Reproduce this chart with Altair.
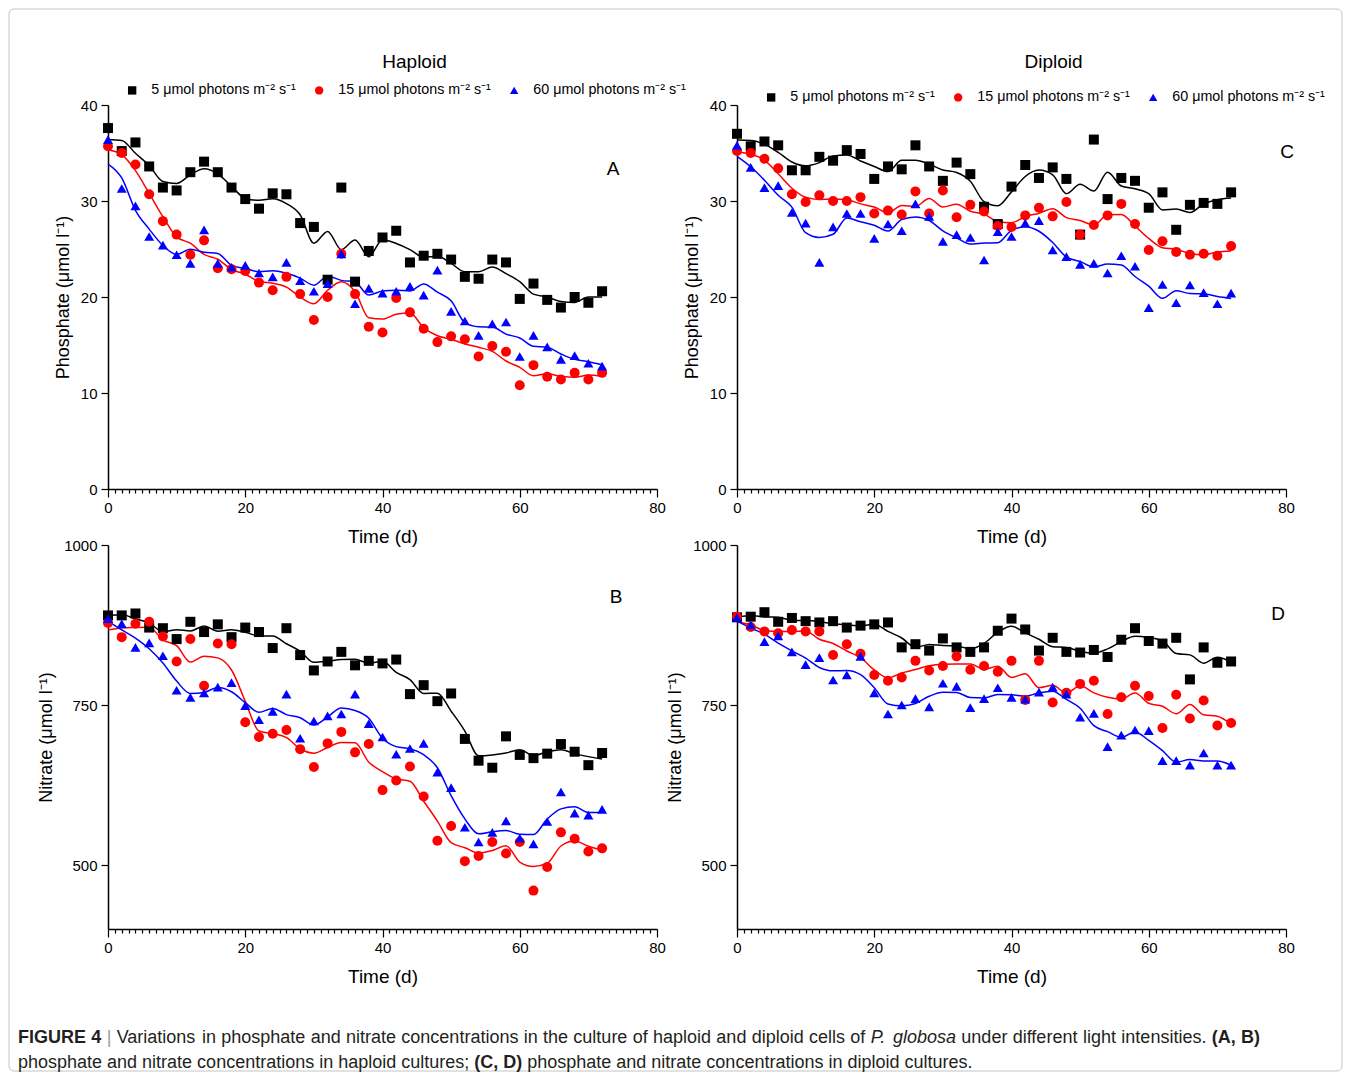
import altair as alt
import pandas as pd

FONT = "Liberation Sans"

days = [0, 2, 4, 6, 8, 10, 12, 14, 16, 18, 20, 22, 24, 26, 28, 30, 32, 34, 36,
        38, 40, 42, 44, 46, 48, 50, 52, 54, 56, 58, 60, 62, 64, 66, 68, 70, 72]

series_labels = ["5 μmol photons m⁻² s⁻¹", "15 μmol photons m⁻² s⁻¹", "60 μmol photons m⁻² s⁻¹"]
series_colors = ["#000000", "#ff0000", "#0000ff"]
series_shapes = ["square", "circle", "triangle-up"]

# Panel A: haploid phosphate
A_5 = [37.6, 35.2, 36.1, 33.6, 31.4, 31.1, 33.0, 34.1, 33.0, 31.4, 30.2, 29.2, 30.8, 30.7, 27.7, 27.3, 21.8, 31.4, 21.6,
       24.8, 26.2, 26.9, 23.6, 24.3, 24.5, 23.9, 22.1, 21.9, 23.9, 23.6, 19.8, 21.4, 19.7, 18.9, 20.0, 19.4, 20.6]
A_15 = [35.7, 35.0, 33.8, 30.7, 27.9, 26.5, 24.4, 25.9, 23.0, 22.9, 22.7, 21.5, 20.7, 22.1, 20.3, 17.6, 20.0, 24.5, 20.3,
        16.9, 16.3, 19.9, 18.4, 16.7, 15.3, 15.9, 15.6, 13.8, 14.9, 14.3, 10.8, 12.9, 11.7, 11.4, 12.1, 11.4, 12.1]
A_60 = [36.4, 31.3, 29.5, 26.3, 25.4, 24.4, 23.5, 27.0, 23.5, 23.1, 23.3, 22.5, 22.1, 23.6, 21.7, 20.6, 21.4, 24.5, 19.3,
        20.9, 20.4, 20.6, 21.1, 20.2, 22.8, 18.5, 17.5, 16.0, 17.2, 17.4, 13.8, 16.0, 14.8, 13.5, 13.9, 13.1, 12.8]

# Panel C: diploid phosphate
C_5 = [37.0, 35.7, 36.2, 35.8, 33.2, 33.2, 34.6, 34.2, 35.3, 34.9, 32.3, 33.6, 33.3, 35.8, 33.6, 32.1, 34.0, 32.8, 29.4,
       27.6, 31.5, 33.75, 32.4, 33.5, 32.3, 26.5, 36.4, 30.2, 32.4, 32.1, 29.3, 30.9, 27.0, 29.6, 29.8, 29.7, 30.9]
C_15 = [35.2, 35.0, 34.4, 33.4, 30.7, 29.9, 30.6, 30.0, 30.0, 30.4, 28.7, 29.0, 28.6, 31.0, 28.7, 31.1, 28.3, 29.6, 28.9,
        27.4, 27.3, 28.5, 29.3, 28.4, 29.9, 26.5, 27.5, 28.5, 29.7, 27.6, 24.9, 25.8, 24.7, 24.4, 24.5, 24.3, 25.3]
C_60 = [35.8, 33.5, 31.4, 31.6, 28.8, 27.7, 23.6, 27.3, 28.7, 28.7, 26.1, 27.6, 26.9, 29.7, 28.4, 25.8, 26.5, 26.2, 23.85,
        26.8, 26.3, 27.7, 27.95, 24.9, 24.2, 23.4, 23.5, 22.5, 24.3, 23.2, 18.9, 21.3, 19.4, 21.25, 20.45, 19.3, 20.4]

# Panel B: haploid nitrate
B_5 = [890, 890, 893, 871, 870, 853, 880, 864, 876, 856, 871, 864, 839, 870, 828, 804, 818, 833, 812,
       819, 815, 821, 767, 781, 756, 768, 697, 663, 652, 701, 672, 667, 674, 689, 677, 656, 675]
B_15 = [878, 856, 877, 880, 857, 818, 853, 780, 846, 845, 723, 700, 705, 711, 681, 653, 690, 708, 676,
        689, 617, 632, 654, 607, 538, 561, 506, 514, 536, 518, 536, 460, 497, 551, 541, 521, 526]
B_60 = [885, 877, 840, 847, 827, 773, 762, 769, 778, 785, 749, 727, 740, 767, 698, 725, 733, 736, 767,
        721, 700, 673, 682, 690, 645, 621, 559, 536, 551, 569, 542, 533, 568, 614, 581, 578, 587]

# Panel D: diploid nitrate
D_5 = [887, 888, 895, 880, 886, 881, 879, 881, 871, 874, 876, 879, 840, 845, 835, 854, 840, 833, 840,
       866, 885, 868, 835, 855, 833, 832, 836, 825, 852, 870, 850, 846, 855, 790, 840, 816, 818]
D_15 = [888, 872, 865, 862, 867, 865, 865, 828, 845, 830, 797, 788, 793, 819, 804, 811, 826, 805, 811,
        802, 819, 758, 819, 754, 769, 783, 788, 736, 762, 780, 764, 714, 766, 729, 757, 718, 722]
D_60 = [887, 875, 849, 858, 833, 813, 824, 789, 797, 826, 769, 736, 750, 760, 747, 784, 779, 746, 760,
        777, 762, 759, 770, 778, 767, 731, 737, 685, 703, 711, 710, 663, 663, 656, 675, 656, 656]

x_ticks = list(range(0, 81))
phos_ticks = [0, 10, 20, 30, 40]
nitr_ticks = [500, 750, 1000]

PW, PH = 549, 384


def make_df(vals_list):
    rows = []
    for lab, col, vals in zip(series_labels, series_colors, vals_list):
        for d, v in zip(days, vals):
            rows.append({"day": d, "value": v, "series": lab, "hex": col})
    return pd.DataFrame(rows)


def panel(vals_list, ydomain, yticks, ytitle, letter, letter_xy, title=None, title_dx=0,
          title_offset=0, legend_xy=None):
    df = make_df(vals_list)
    xaxis = alt.Axis(
        values=x_ticks,
        labelExpr="datum.value % 20 === 0 ? datum.label : ''",
        tickSize={"condition": {"test": "datum.value % 20 === 0", "value": 8}, "value": 4},
        labelOverlap=False, labelFlush=False, grid=False, title="Time (d)",
        domainColor="black", domainWidth=1.5, tickColor="black", tickWidth=1.2,
        labelFont=FONT, labelFontSize=15, labelColor="black", labelPadding=3,
        titleFont=FONT, titleFontSize=19, titleFontWeight="normal", titleColor="black", titlePadding=12,
    )
    yaxis = alt.Axis(
        values=yticks, grid=False, title=ytitle, tickSize=7, format="d", labelFlush=False,
        domainColor="black", domainWidth=1.5, tickColor="black", tickWidth=1.2,
        labelFont=FONT, labelFontSize=15, labelColor="black", labelPadding=4,
        titleFont=FONT, titleFontSize=18, titleFontWeight="normal", titleColor="black", titlePadding=8,
    )
    xenc = alt.X("day:Q", scale=alt.Scale(domain=[0, 80], nice=False, zero=False), axis=xaxis)
    yscale = alt.Scale(domain=ydomain, nice=False, zero=False)

    if legend_xy is not None:
        legend = alt.Legend(
            title=None, orient="none", legendX=legend_xy[0], legendY=legend_xy[1],
            direction="horizontal", labelFont=FONT, labelFontSize=14.3, labelColor="black",
            symbolSize=70, labelOffset=12, columnPadding=16, symbolStrokeWidth=0,
        )
    else:
        legend = None

    lines = alt.Chart(df).transform_window(
        ma="mean(value)", frame=[-1, 1], groupby=["series"], sort=[alt.SortField("day")]
    ).mark_line(strokeWidth=1.5, interpolate="monotone").encode(
        x=xenc,
        y=alt.Y("ma:Q", scale=yscale, axis=yaxis),
        color=alt.Color("hex:N", scale=None),
        detail="series:N",
    )
    points = alt.Chart(df).mark_point(filled=True, size=100, opacity=1).encode(
        x=xenc,
        y=alt.Y("value:Q", scale=yscale, axis=yaxis),
        color=alt.Color("series:N", scale=alt.Scale(domain=series_labels, range=series_colors), legend=legend),
        shape=alt.Shape("series:N", scale=alt.Scale(domain=series_labels, range=series_shapes), legend=legend),
    )
    lab = alt.Chart(pd.DataFrame({"t": [letter]})).mark_text(
        font=FONT, fontSize=19, color="black", align="center", baseline="middle"
    ).encode(text="t:N", x=alt.value(letter_xy[0]), y=alt.value(letter_xy[1]))

    props = dict(width=PW, height=PH)
    if title is not None:
        props["title"] = alt.TitleParams(
            text=title, font=FONT, fontSize=19, fontWeight="normal", color="black",
            anchor="middle", frame="group", dx=title_dx, offset=title_offset,
        )
    return alt.layer(lines, points, lab).properties(**props)


A = panel([A_5, A_15, A_60], [0, 40], phos_ticks, "Phosphate (μmol l⁻¹)", "A", (505, 64),
          title="Haploid", title_dx=32, title_offset=11, legend_xy=(17, -22))
C = panel([C_5, C_15, C_60], [0, 40], phos_ticks, "Phosphate (μmol l⁻¹)", "C", (550, 47),
          title="Diploid", title_dx=42, title_offset=18, legend_xy=(27, -15))
B = panel([B_5, B_15, B_60], [400, 1000], nitr_ticks, "Nitrate (μmol l⁻¹)", "B", (508, 52))
D = panel([D_5, D_15, D_60], [400, 1000], nitr_ticks, "Nitrate (μmol l⁻¹)", "D", (541, 69))

# ---- Caption (word by word so the first line can be justified like the original) ----
REG_W = {" ": 278, "(": 333, ")": 333, ",": 278, ".": 278, ";": 278, "|": 260,
         "A": 667, "B": 667, "C": 722, "D": 722, "E": 667, "F": 611, "G": 778, "I": 278,
         "P": 667, "R": 722, "U": 722, "V": 667,
         "a": 556, "b": 556, "c": 500, "d": 556, "e": 556, "f": 278, "g": 556, "h": 556,
         "i": 222, "j": 222, "k": 500, "l": 222, "m": 833, "n": 556, "o": 556, "p": 556,
         "q": 556, "r": 333, "s": 500, "t": 278, "u": 556, "v": 500, "w": 722, "x": 500,
         "y": 500, "z": 500}
BOLD_W = {" ": 278, "(": 333, ")": 333, ",": 278, "A": 722, "B": 722, "C": 722, "D": 722,
          "E": 667, "F": 611, "G": 778, "I": 278, "R": 722, "U": 722}
CAP_FS = 18.0

cap_line1 = [("FIGURE", "b"), ("4", "b"), ("|", "s"), ("Variations", "n"), ("in", "n"), ("phosphate", "n"),
             ("and", "n"), ("nitrate", "n"), ("concentrations", "n"), ("in", "n"), ("the", "n"),
             ("culture", "n"), ("of", "n"), ("haploid", "n"), ("and", "n"), ("diploid", "n"),
             ("cells", "n"), ("of", "n"), ("P.", "i"), ("globosa", "i"), ("under", "n"),
             ("different", "n"), ("light", "n"), ("intensities.", "n"), ("(A,", "b"), ("B)", "b")]
cap_line2 = [("phosphate", "n"), ("and", "n"), ("nitrate", "n"), ("concentrations", "n"), ("in", "n"),
             ("haploid", "n"), ("cultures;", "n"), ("(C,", "b"), ("D)", "b"), ("phosphate", "n"),
             ("and", "n"), ("nitrate", "n"), ("concentrations", "n"), ("in", "n"), ("diploid", "n"),
             ("cultures.", "n")]


def tw(word, style):
    tbl = BOLD_W if style == "b" else REG_W
    return sum(tbl.get(ch, 556) for ch in word) * CAP_FS / 1000.0


cap_left, cap_right = -90, 1152   # relative to the caption cell (page x 18 .. 1260)
rows = []
w1 = [tw(w, s) for w, s in cap_line1]
gap1 = (cap_right - cap_left - sum(w1)) / (len(cap_line1) - 1)
xx = cap_left
for (w, s), wd in zip(cap_line1, w1):
    rows.append({"t": w, "x": xx, "y": 53, "st": s})
    xx += wd + gap1
xx = cap_left
space = REG_W[" "] * CAP_FS / 1000.0
for w, s in cap_line2:
    rows.append({"t": w, "x": xx, "y": 78, "st": s})
    xx += tw(w, s) + space
cap_df = pd.DataFrame(rows)

frame = alt.Chart(pd.DataFrame({"a": [0]})).mark_rect(
    fillOpacity=0, stroke="#c4c4c4", strokeWidth=1, cornerRadius=5
).encode(x=alt.value(-99), x2=alt.value(1234), y=alt.value(-976), y2=alt.value(86))

cap_layers = [frame]
for st, weight, fstyle, col in [("n", "normal", "normal", "#231f20"), ("b", "bold", "normal", "#231f20"),
                                ("i", "normal", "italic", "#231f20"), ("s", "normal", "normal", "#9a9a9a")]:
    cap_layers.append(
        alt.Chart(cap_df).transform_filter(alt.datum.st == st).mark_text(
            font=FONT, fontSize=CAP_FS, fontWeight=weight, fontStyle=fstyle, color=col,
            align="left", baseline="middle"
        ).encode(
            text="t:N",
            x=alt.X("x:Q", scale=None, axis=None),
            y=alt.Y("y:Q", scale=None, axis=None),
        )
    )
caption = alt.layer(*cap_layers).properties(width=PW, height=60)

chart = alt.concat(
    A, C, B, D, caption, columns=2, spacing={"row": 56, "column": 80}, bounds="flush"
).resolve_scale(
    color="independent", shape="independent"
).resolve_legend(
    color="independent", shape="independent"
).configure_view(stroke=None).properties(padding=0, background="white")

chart.save("out.html", embed_options={"renderer": "svg", "actions": False})
